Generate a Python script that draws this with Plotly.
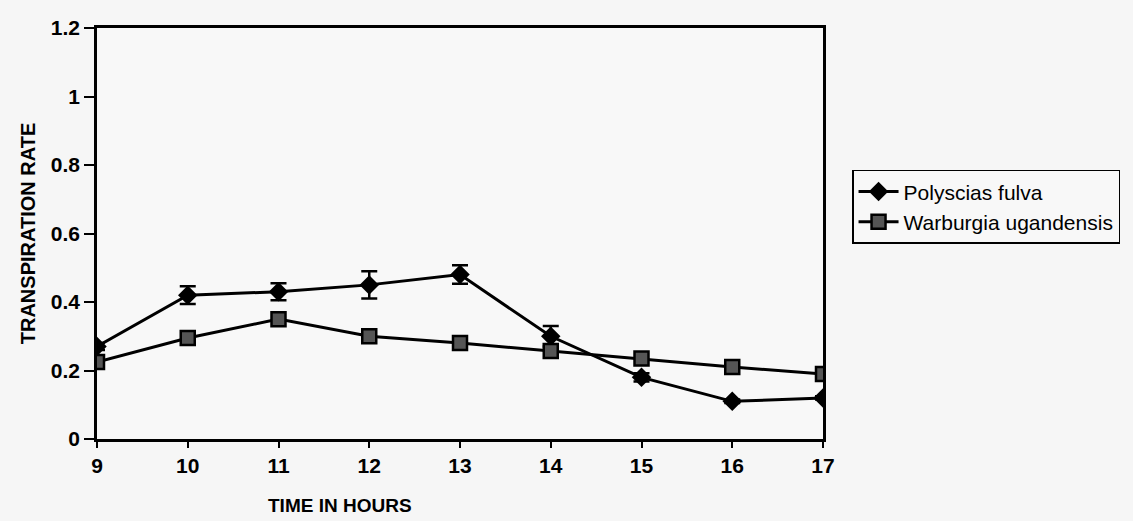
import plotly.graph_objects as go

hours = [9, 10, 11, 12, 13, 14, 15, 16, 17]
polyscias = [0.27, 0.42, 0.43, 0.45, 0.48, 0.30, 0.18, 0.11, 0.12]
polyscias_err = [0.01, 0.026, 0.025, 0.04, 0.027, 0.03, 0.012, 0.005, 0.005]
warburgia = [0.225, 0.295, 0.35, 0.30, 0.28, 0.257, 0.235, 0.21, 0.19]
y_ticks = [0, 0.2, 0.4, 0.6, 0.8, 1, 1.2]
y_labels = ["0", "0.2", "0.4", "0.6", "0.8", "1", "1.2"]

fig = go.Figure()
fig.add_trace(go.Scatter(
    x=hours, y=polyscias, name="Polyscias fulva", mode="lines+markers",
    line=dict(color="black", width=3),
    marker=dict(symbol="diamond", size=15, color="black"),
    error_y=dict(type="data", array=polyscias_err, color="black", thickness=2.5, width=8),
))
fig.add_trace(go.Scatter(
    x=hours, y=warburgia, name="Warburgia ugandensis", mode="lines+markers",
    line=dict(color="black", width=3),
    marker=dict(symbol="square", size=14, color="#555555", line=dict(color="black", width=2.5)),
))

font_family = "Liberation Sans, Arial, sans-serif"
fig.update_layout(
    width=1133, height=521,
    margin=dict(l=97, r=310, t=28, b=82),
    paper_bgcolor="#f6f6f6", plot_bgcolor="#f8f8f8",
    font=dict(family=font_family, color="black"),
    showlegend=True,
    legend=dict(
        x=1.04, y=0.655, xanchor="left", yanchor="top",
        bgcolor="#f8f8f8", bordercolor="black", borderwidth=1.5,
        font=dict(size=21, family=font_family, color="black"),
        tracegroupgap=0, itemwidth=40,
    ),
    xaxis=dict(
        range=[9, 17], tickmode="array", tickvals=hours,
        ticktext=[f"<b>{h}</b>" for h in hours],
        tickfont=dict(size=21), ticks="outside", ticklen=6, tickwidth=2, tickcolor="black",
        showline=True, linecolor="black", linewidth=2.5, mirror=True,
        showgrid=False, zeroline=False,
    ),
    yaxis=dict(
        range=[0, 1.2], tickmode="array", tickvals=y_ticks,
        ticktext=[f"<b>{t}</b>" for t in y_labels],
        tickfont=dict(size=21), ticks="outside", ticklen=10, tickwidth=2, tickcolor="black",
        showline=True, linecolor="black", linewidth=2.5, mirror=True,
        showgrid=False, zeroline=False,
        title=dict(text="<b>TRANSPIRATION RATE</b>", font=dict(size=20), standoff=10),
    ),
)
fig.add_annotation(
    text="<b>TIME IN HOURS</b>", xref="paper", yref="paper",
    x=(340 - 97) / 726, y=-(505 - 439) / 411, xanchor="center", yanchor="middle",
    showarrow=False, font=dict(size=19, family=font_family, color="black"),
)
fig.write_html("out.html")
